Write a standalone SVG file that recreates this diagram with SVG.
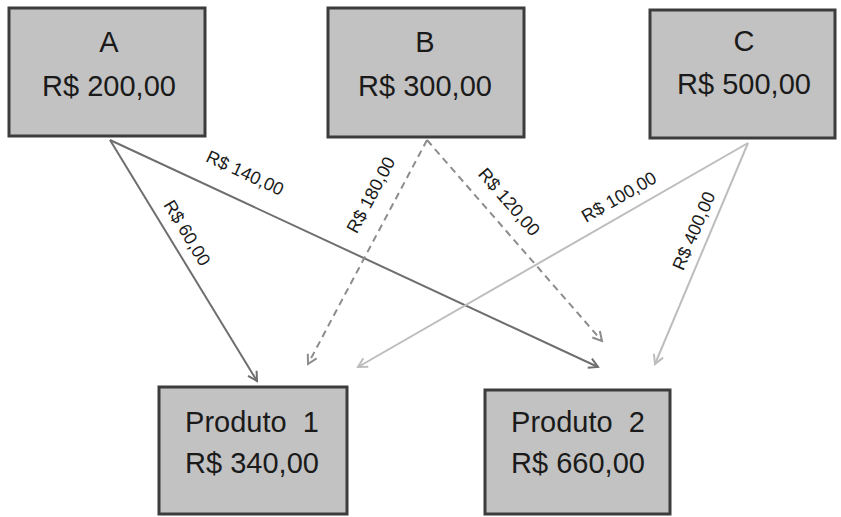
<svg xmlns="http://www.w3.org/2000/svg" width="841" height="517" viewBox="0 0 841 517">
  <style>
    .box { fill: #c2c2c2; stroke: #3c3c3c; stroke-width: 3; }
    .t { font-family: "Liberation Sans", Arial, sans-serif; font-size: 29px; fill: #1a1a1a; text-anchor: middle; white-space: pre; }
    .lbl { font-family: "Liberation Sans", Arial, sans-serif; font-size: 18px; fill: #1a1a1a; text-anchor: middle; dominant-baseline: central; }
    .a { stroke: #6e6e6e; stroke-width: 2; fill: none; }
    .b { stroke: #8c8c8c; stroke-width: 2; fill: none; stroke-dasharray: 7 5; }
    .c { stroke: #bdbdbd; stroke-width: 2; fill: none; }
  </style>
  <defs>
    <marker id="arrA" markerWidth="12" markerHeight="12" refX="10" refY="6" orient="auto" markerUnits="userSpaceOnUse">
      <polyline points="1,1 10,6 1,11" fill="none" stroke="#6e6e6e" stroke-width="2"/>
    </marker>
    <marker id="arrB" markerWidth="12" markerHeight="12" refX="10" refY="6" orient="auto" markerUnits="userSpaceOnUse">
      <polyline points="1,1 10,6 1,11" fill="none" stroke="#8c8c8c" stroke-width="2"/>
    </marker>
    <marker id="arrC" markerWidth="12" markerHeight="12" refX="10" refY="6" orient="auto" markerUnits="userSpaceOnUse">
      <polyline points="1,1 10,6 1,11" fill="none" stroke="#bdbdbd" stroke-width="2"/>
    </marker>
  </defs>

  <rect width="841" height="517" fill="#ffffff"/>

  <!-- connectors with their values -->
  <g id="connectors">
    <line class="a" x1="110" y1="140" x2="257" y2="381" marker-end="url(#arrA)"/>
    <line class="a" x1="110" y1="140" x2="598" y2="367" marker-end="url(#arrA)"/>
    <line class="b" x1="427" y1="140" x2="308" y2="364" marker-end="url(#arrB)"/>
    <line class="b" x1="427" y1="140" x2="602" y2="341" marker-end="url(#arrB)"/>
    <line class="c" x1="748" y1="143" x2="358" y2="367" marker-end="url(#arrC)"/>
    <line class="c" x1="748" y1="143" x2="655" y2="364" marker-end="url(#arrC)"/>

    <text class="lbl" transform="translate(187,233) rotate(59)">R$ 60,00</text>
    <text class="lbl" transform="translate(245,173) rotate(25)">R$ 140,00</text>
    <text class="lbl" transform="translate(371,195) rotate(-62)">R$ 180,00</text>
    <text class="lbl" transform="translate(509,202) rotate(49)">R$ 120,00</text>
    <text class="lbl" transform="translate(619,197) rotate(-30)">R$ 100,00</text>
    <text class="lbl" transform="translate(694,231) rotate(-67)">R$ 400,00</text>
  </g>

  <g id="nodeA">
    <rect class="box" x="9" y="8" width="196" height="128"/>
    <text class="t" x="109" y="52">A</text>
    <text class="t" x="109" y="96">R$ 200,00</text>
  </g>

  <g id="nodeB">
    <rect class="box" x="328" y="8" width="196" height="129"/>
    <text class="t" x="425" y="52">B</text>
    <text class="t" x="425" y="96">R$ 300,00</text>
  </g>

  <g id="nodeC">
    <rect class="box" x="650" y="10" width="185" height="128"/>
    <text class="t" x="744" y="51">C</text>
    <text class="t" x="744" y="94">R$ 500,00</text>
  </g>

  <g id="produto1">
    <rect class="box" x="159" y="387" width="188" height="127"/>
    <text class="t" x="252" y="432" xml:space="preserve">Produto  1</text>
    <text class="t" x="252" y="473">R$ 340,00</text>
  </g>

  <g id="produto2">
    <rect class="box" x="485" y="390" width="185" height="124"/>
    <text class="t" x="578" y="432" xml:space="preserve">Produto  2</text>
    <text class="t" x="578" y="473">R$ 660,00</text>
  </g>
</svg>
